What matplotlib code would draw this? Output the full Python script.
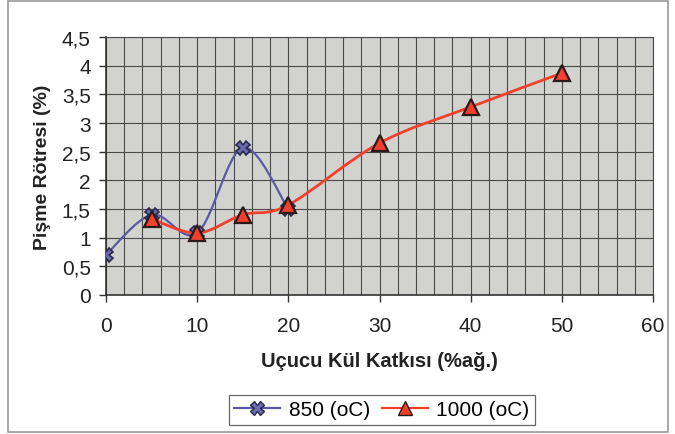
import matplotlib.pyplot as plt
import numpy as np
from matplotlib.path import Path
from matplotlib.patches import PathPatch, Rectangle
from matplotlib.lines import Line2D
from matplotlib.ticker import FuncFormatter, MultipleLocator

plt.rcParams['font.family'] = ['Liberation Sans', 'DejaVu Sans']

# data
x_850 = [0, 5, 10, 15, 20]
y_850 = [0.70, 1.40, 1.08, 2.57, 1.50]
x_1000 = [5, 10, 15, 20, 30, 40, 50]
y_1000 = [1.33, 1.08, 1.40, 1.57, 2.65, 3.28, 3.87]

BLUE = '#5a5aa6'
RED = '#f2402c'


def smooth_path(xs, ys, t=1/6):
    # Excel-like smoothed line as cubic bezier segments
    pts = np.column_stack([xs, ys]).astype(float)
    verts = [pts[0]]
    codes = [Path.MOVETO]
    n = len(pts)
    for i in range(n - 1):
        p0 = pts[i - 1] if i > 0 else pts[i]
        p1 = pts[i]
        p2 = pts[i + 1]
        p3 = pts[i + 2] if i + 2 < n else pts[i + 1]
        c1 = p1 + (p2 - p0) * t
        c2 = p2 - (p3 - p1) * t
        verts += [c1, c2, p2]
        codes += [Path.CURVE4] * 3
    return Path(verts, codes)


fig = plt.figure(figsize=(6.75, 4.35), dpi=100)
fig.patches.append(Rectangle((0.012, 0.005), 0.978, 0.99, transform=fig.transFigure,
                             fill=False, edgecolor='#9a9a9a', lw=1.2))
ax = fig.add_axes([106 / 675, 1 - 296 / 435, 547 / 675, 258 / 435])
ax.set_facecolor('#d2d2cf')

ax.set_xlim(0, 60)
ax.set_ylim(0, 4.5)
ax.xaxis.set_major_locator(MultipleLocator(10))
ax.xaxis.set_minor_locator(MultipleLocator(2))
ax.yaxis.set_major_locator(MultipleLocator(0.5))
ax.grid(which='minor', axis='x', color='#4a4a4a', lw=0.8)
ax.grid(which='major', axis='both', color='#4a4a4a', lw=0.8)
ax.set_axisbelow(True)
ax.yaxis.set_major_formatter(FuncFormatter(lambda v, p: f'{v:g}'.replace('.', ',')))
ax.tick_params(axis='both', which='major', labelsize=15, color='#333333',
               length=5, width=1, labelcolor='#222222')
ax.tick_params(axis='x', which='major', pad=10)
ax.tick_params(axis='y', which='major', pad=6)
ax.tick_params(axis='x', which='minor', length=0)
for s in ax.spines.values():
    s.set_color('#4a4a4a')
    s.set_linewidth(0.8)
ax.spines['left'].set_color('#333333')
ax.spines['bottom'].set_color('#333333')
ax.spines['left'].set_linewidth(1.2)
ax.spines['bottom'].set_linewidth(1.2)

ax.add_patch(PathPatch(smooth_path(x_850, y_850), fill=False, edgecolor=BLUE, lw=1.6, zorder=3))
ax.add_patch(PathPatch(smooth_path(x_1000, y_1000), fill=False, edgecolor=RED, lw=2.0, zorder=3))
ax.plot(x_850, y_850, ls='none', marker='X', ms=10, mfc='#6c6ab0', mec='#2a2a4a',
        mew=1.2, zorder=4)
ax.plot(x_1000, y_1000, ls='none', marker='^', ms=11, mfc=RED, mec='#2a1a1a',
        mew=1.6, zorder=5)

ax.set_ylabel('Pişme Rötresi (%)', fontsize=14, fontweight='bold', color='#222222', labelpad=8)
ax.set_xlabel('Uçucu Kül Katkısı (%ağ.)', fontsize=14.5, fontweight='bold', color='#222222',
              labelpad=12)

handles = [Line2D([], [], color=BLUE, lw=1.6, marker='X', ms=10, mfc='#6c6ab0', mec='#2a2a4a'),
           Line2D([], [], color=RED, lw=1.6, marker='^', ms=10, mfc=RED, mec='#2a1a1a')]
leg = fig.legend(handles, ['850 (oC)', '1000 (oC)'], loc='center', ncol=2,
                 bbox_to_anchor=(382 / 675, 1 - 411 / 435), fontsize=15, frameon=True,
                 fancybox=False, edgecolor='#444444', handlelength=2.2, columnspacing=0.6,
                 handletextpad=0.4, borderpad=0.25)
leg.get_frame().set_linewidth(0.9)

fig.savefig('out.png', dpi=100)
